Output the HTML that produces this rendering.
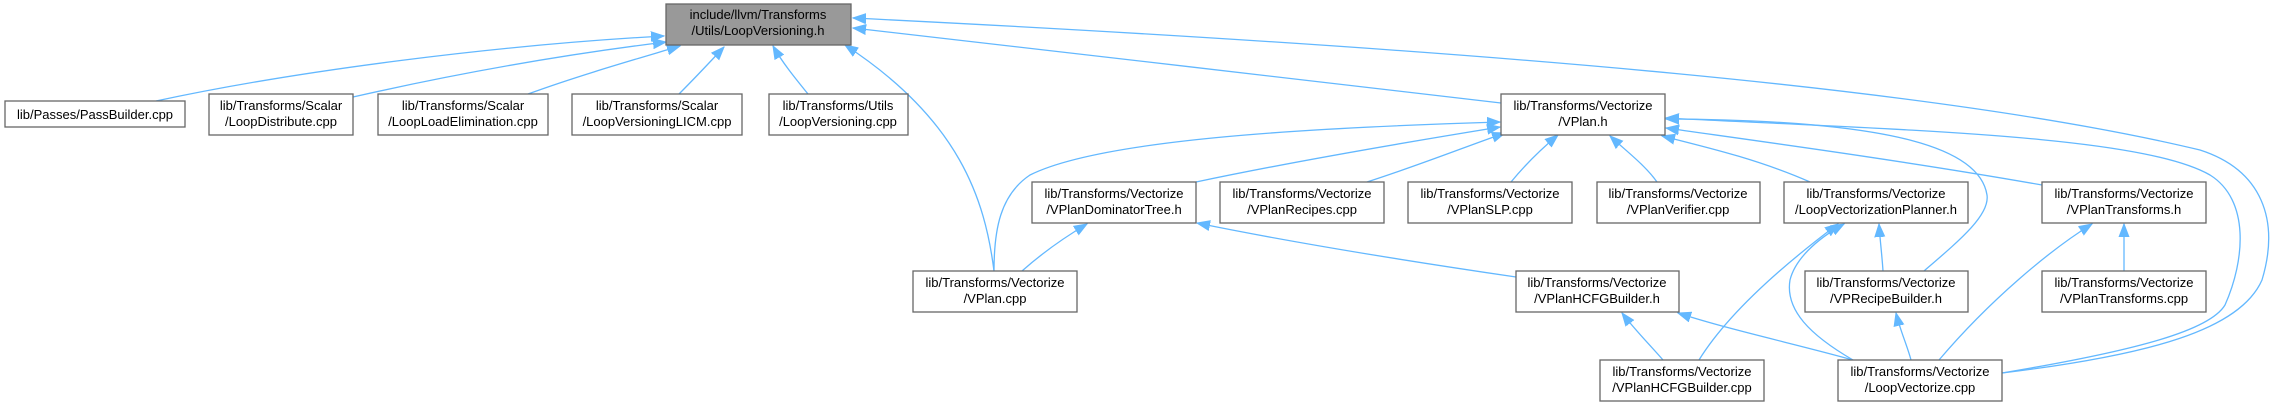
<!DOCTYPE html>
<html><head><meta charset="utf-8"><style>
html,body{margin:0;padding:0;background:#fff;}
svg{display:block;}
text{font-family:"Liberation Sans",Arial,sans-serif;font-size:13px;fill:#000;text-anchor:middle;}
.b{fill:#fff;stroke:#666;stroke-width:1.3;}
.e{fill:none;stroke:#63b8ff;stroke-width:1.3;}
</style></head><body>
<svg width="2270" height="406" viewBox="0 0 2270 406" xmlns="http://www.w3.org/2000/svg">
<defs>
<marker id="a" markerUnits="userSpaceOnUse" markerWidth="14" markerHeight="12" refX="13" refY="6" orient="auto">
<path d="M0,1 L13,6 L0,11 Z" fill="#63b8ff" stroke="#63b8ff"/>
</marker>
</defs>
<g marker-end="url(#a)">
<!-- to root -->
<path class="e" d="M156,101 C300,70 500,45 664,36"/>
<path class="e" d="M353,97 C450,75 560,55 666,42"/>
<path class="e" d="M528,94 C580,75 640,58 680,46"/>
<path class="e" d="M679,94 C695,78 710,62 724,47"/>
<path class="e" d="M808,94 C795,78 782,62 773,46"/>
<path class="e" d="M994,271 C985,200 960,120 845,45"/>
<path class="e" d="M1501,103 C1300,80 1050,50 853,28"/>
<path class="e" d="M2002,373 C2150,355 2240,330 2262,280 C2280,220 2262,170 2200,150 C1950,90 1500,50 853,18"/>
<!-- to VPlan.h -->
<path class="e" d="M994,271 C994,230 1000,195 1030,175 C1100,140 1300,128 1500,122"/>
<path class="e" d="M1196,182 C1300,160 1420,140 1500,127"/>
<path class="e" d="M1367,182 C1420,165 1470,145 1505,133"/>
<path class="e" d="M1511,182 C1525,165 1540,150 1558,135"/>
<path class="e" d="M1657,182 C1645,165 1625,150 1610,136"/>
<path class="e" d="M1810,182 C1760,160 1710,148 1662,136"/>
<path class="e" d="M2042,185 C1900,160 1750,140 1666,128"/>
<path class="e" d="M1924,271 C1960,240 1990,215 1987,195 C1980,150 1900,120 1666,119"/>
<path class="e" d="M2002,373 C2140,350 2210,330 2225,305 C2245,260 2250,200 2210,175 C2140,135 1900,130 1666,118"/>
<!-- others -->
<path class="e" d="M1022,271 C1040,255 1060,240 1087,224"/>
<path class="e" d="M1516,277 C1400,260 1280,240 1197,223"/>
<path class="e" d="M1663,360 C1650,345 1635,330 1622,313"/>
<path class="e" d="M1853,360 C1800,345 1730,330 1678,313"/>
<path class="e" d="M1699,360 C1730,310 1790,260 1838,224"/>
<path class="e" d="M1853,360 C1810,335 1785,310 1790,280 C1795,260 1815,240 1844,224"/>
<path class="e" d="M1883,271 C1882,255 1880,240 1879,224"/>
<path class="e" d="M1911,360 C1907,345 1900,330 1896,313"/>
<path class="e" d="M1939,360 C1990,300 2050,250 2092,224"/>
<path class="e" d="M2124,271 L2124,224"/>
</g>
<!-- nodes -->
<rect x="666" y="4" width="185" height="41" fill="#999" stroke="#666" stroke-width="1.3"/>
<text x="758" y="19">include/llvm/Transforms</text><text x="758" y="35">/Utils/LoopVersioning.h</text>

<rect class="b" x="5" y="101" width="180" height="26"/><text x="95" y="119">lib/Passes/PassBuilder.cpp</text>
<rect class="b" x="209" y="94" width="144" height="41"/><text x="281" y="110">lib/Transforms/Scalar</text><text x="281" y="126">/LoopDistribute.cpp</text>
<rect class="b" x="378" y="94" width="170" height="41"/><text x="463" y="110">lib/Transforms/Scalar</text><text x="463" y="126">/LoopLoadElimination.cpp</text>
<rect class="b" x="572" y="94" width="170" height="41"/><text x="657" y="110">lib/Transforms/Scalar</text><text x="657" y="126">/LoopVersioningLICM.cpp</text>
<rect class="b" x="769" y="94" width="139" height="41"/><text x="838" y="110">lib/Transforms/Utils</text><text x="838" y="126">/LoopVersioning.cpp</text>

<rect class="b" x="1501" y="94" width="164" height="41"/><text x="1583" y="110">lib/Transforms/Vectorize</text><text x="1583" y="126">/VPlan.h</text>

<rect class="b" x="1032" y="182" width="164" height="41"/><text x="1114" y="198">lib/Transforms/Vectorize</text><text x="1114" y="214">/VPlanDominatorTree.h</text>
<rect class="b" x="1220" y="182" width="164" height="41"/><text x="1302" y="198">lib/Transforms/Vectorize</text><text x="1302" y="214">/VPlanRecipes.cpp</text>
<rect class="b" x="1408" y="182" width="164" height="41"/><text x="1490" y="198">lib/Transforms/Vectorize</text><text x="1490" y="214">/VPlanSLP.cpp</text>
<rect class="b" x="1597" y="182" width="163" height="41"/><text x="1678" y="198">lib/Transforms/Vectorize</text><text x="1678" y="214">/VPlanVerifier.cpp</text>
<rect class="b" x="1784" y="182" width="184" height="41"/><text x="1876" y="198">lib/Transforms/Vectorize</text><text x="1876" y="214">/LoopVectorizationPlanner.h</text>
<rect class="b" x="2042" y="182" width="164" height="41"/><text x="2124" y="198">lib/Transforms/Vectorize</text><text x="2124" y="214">/VPlanTransforms.h</text>

<rect class="b" x="913" y="271" width="164" height="41"/><text x="995" y="287">lib/Transforms/Vectorize</text><text x="995" y="303">/VPlan.cpp</text>
<rect class="b" x="1516" y="271" width="163" height="41"/><text x="1597" y="287">lib/Transforms/Vectorize</text><text x="1597" y="303">/VPlanHCFGBuilder.h</text>
<rect class="b" x="1805" y="271" width="163" height="41"/><text x="1886" y="287">lib/Transforms/Vectorize</text><text x="1886" y="303">/VPRecipeBuilder.h</text>
<rect class="b" x="2042" y="271" width="164" height="41"/><text x="2124" y="287">lib/Transforms/Vectorize</text><text x="2124" y="303">/VPlanTransforms.cpp</text>

<rect class="b" x="1600" y="360" width="164" height="41"/><text x="1682" y="376">lib/Transforms/Vectorize</text><text x="1682" y="392">/VPlanHCFGBuilder.cpp</text>
<rect class="b" x="1838" y="360" width="164" height="41"/><text x="1920" y="376">lib/Transforms/Vectorize</text><text x="1920" y="392">/LoopVectorize.cpp</text>
</svg>
</body></html>
